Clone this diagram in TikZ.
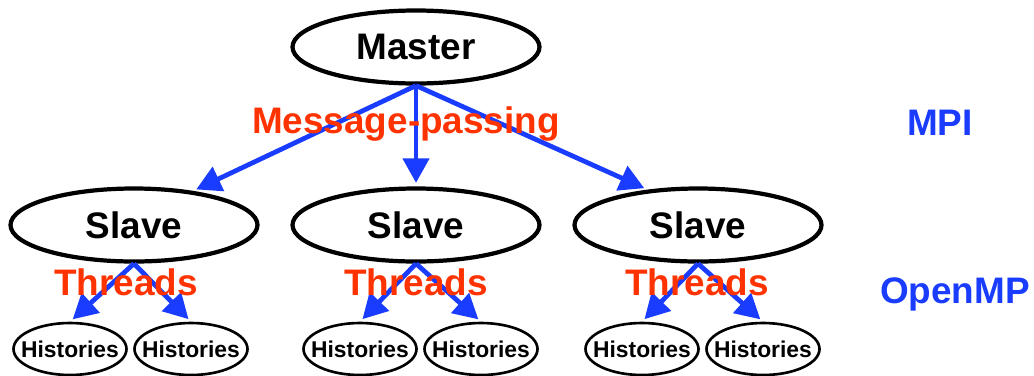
\documentclass[tikz,border=0pt]{standalone}
\usepackage{fontspec}
\setmainfont{Liberation Sans}
\usepackage{tikz}
\usetikzlibrary{arrows.meta, positioning, shapes.geometric}
\definecolor{mpiblue}{HTML}{1A3CFF}
\definecolor{labelred}{HTML}{FF3300}
\tikzset{
	procnode/.style={
			ellipse,
			draw=black,
			line width=1.2pt,
			fill=white,
			minimum width=2.47cm,
			minimum height=0.73cm,
			inner sep=0pt,
			font=\fontsize{10.5}{12}\selectfont\bfseries
		},
	histnode/.style={
			ellipse,
			draw=black,
			line width=0.75pt,
			fill=white,
			minimum width=1.13cm,
			minimum height=0.52cm,
			inner xsep=-0.9mm,
			inner ysep=0pt,
			font=\fontsize{6.5}{8}\selectfont\bfseries
		},
	commarrow/.style={
			draw=mpiblue,
			line width=1.35pt,
			-{Triangle[length=7pt, width=7.4pt]},
			shorten >=1pt
		},
	redlabel/.style={
			text=labelred,
			font=\fontsize{10.5}{12}\selectfont\bfseries,
			inner sep=0pt
		},
	bluelabel/.style={
			text=mpiblue,
			font=\fontsize{10.5}{12}\selectfont\bfseries,
			inner sep=0pt
		}
}
\begin{document}
\begin{tikzpicture}
\useasboundingbox (0,0) rectangle (10.34,-3.75);

\node[procnode] (master) at (4.16,-0.47) { Master };
\node[procnode] (s1) at (1.34,-2.25) { Slave };
\node[procnode] (s2) at (4.16,-2.25) { Slave };
\node[procnode] (s3) at (6.98,-2.25) { Slave };

\node[histnode] (h1) at (0.70,-3.49) { Histories };
\node[histnode] (h2) at (1.91,-3.49) { Histories };
\node[histnode] (h3) at (3.60,-3.49) { Histories };
\node[histnode] (h4) at (4.81,-3.49) { Histories };
\node[histnode] (h5) at (6.42,-3.49) { Histories };
\node[histnode] (h6) at (7.63,-3.49) { Histories };

\draw[commarrow] (master.south) -- (s1.30);
\draw[commarrow] (master.south) -- (s2.north);
\draw[commarrow] (master.south) -- (s3.145);

\draw[commarrow] (s1.south) -- (h1.north);
\draw[commarrow] (s1.south) -- (h2.north);
\draw[commarrow] (s2.south) -- (h3.north);
\draw[commarrow] (s2.south) -- (h4.north);
\draw[commarrow] (s3.south) -- (h5.north);
\draw[commarrow] (s3.south) -- (h6.north);

\node[redlabel, anchor=base] (msg) at (4.06,-1.33) {Message-passing};
\node[redlabel, anchor=base] (t1) at (1.26,-2.95) {Threads};
\node[redlabel, anchor=base] (t2) at (4.16,-2.95) {Threads};
\node[redlabel, anchor=base] (t3) at (6.97,-2.95) {Threads};

\node[bluelabel, anchor=base] (mpi) at (9.40,-1.35) {MPI};
\node[bluelabel, anchor=base] (omp) at (9.55,-3.03) {OpenMP};
\end{tikzpicture}
\end{document}
